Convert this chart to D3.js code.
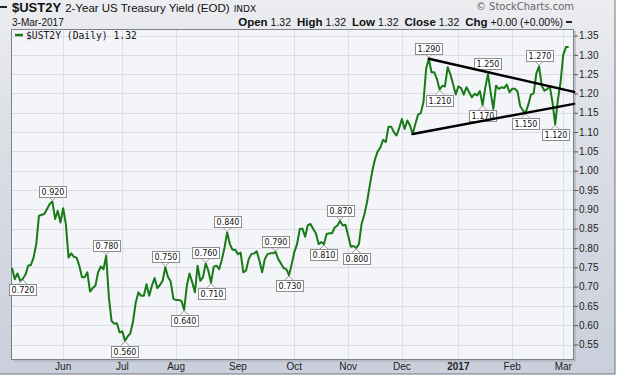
<!DOCTYPE html>
<html>
<head>
<meta charset="utf-8">
<script src="https://cdn.jsdelivr.net/npm/d3@7"></script>
<style>
  body { margin: 0; background: #fff; }
  svg { display: block; }
</style>
</head>
<body>
<div id="chart"></div>
<script>
// trading calendar (bond market)
const firstDay = "2016-05-04";
const lastDay = "2017-03-07";
const holidays = ["2016-05-30", "2016-07-04", "2016-09-05", "2016-10-10", "2016-11-11",
  "2016-11-24", "2016-12-26", "2017-01-02", "2017-01-16", "2017-02-20"];

// daily close of $UST2Y, one value per trading day from 4-May-2016
const yields = [
  0.748, 0.719, 0.734, 0.715, 0.720, 0.731, 0.754, 0.756, 0.775, 0.810,
  0.883, 0.886, 0.888, 0.901, 0.914, 0.920, 0.875, 0.896, 0.866, 0.903,
  0.862, 0.775, 0.786, 0.777, 0.775, 0.754, 0.724, 0.724, 0.737, 0.687,
  0.696, 0.702, 0.737, 0.752, 0.745, 0.780, 0.672, 0.611, 0.604, 0.605,
  0.581, 0.584, 0.560, 0.571, 0.579, 0.610, 0.659, 0.685, 0.676, 0.676,
  0.706, 0.676, 0.702, 0.722, 0.696, 0.704, 0.715, 0.750, 0.725, 0.713,
  0.668, 0.665, 0.665, 0.663, 0.640, 0.702, 0.734, 0.711, 0.685, 0.754,
  0.715, 0.724, 0.760, 0.741, 0.710, 0.751, 0.754, 0.745, 0.769, 0.800,
  0.840, 0.810, 0.795, 0.795, 0.784, 0.788, 0.737, 0.741, 0.771, 0.784,
  0.786, 0.791, 0.767, 0.737, 0.771, 0.784, 0.786, 0.786, 0.790, 0.771,
  0.760, 0.748, 0.745, 0.730, 0.758, 0.790, 0.810, 0.849, 0.850, 0.829,
  0.859, 0.862, 0.849, 0.838, 0.810, 0.815, 0.810, 0.836, 0.838, 0.838,
  0.853, 0.858, 0.870, 0.858, 0.860, 0.832, 0.803, 0.805, 0.800, 0.810,
  0.862, 0.886, 0.918, 0.960, 1.000, 1.030, 1.050, 1.060, 1.080, 1.074,
  1.114, 1.114, 1.100, 1.091, 1.111, 1.134, 1.108, 1.130, 1.117, 1.095,
  1.121, 1.145, 1.149, 1.177, 1.264, 1.290, 1.255, 1.255, 1.238, 1.210,
  1.220, 1.218, 1.268, 1.250, 1.225, 1.197, 1.218, 1.214, 1.197, 1.216,
  1.203, 1.190, 1.199, 1.195, 1.206, 1.170, 1.215, 1.250, 1.203, 1.160,
  1.220, 1.212, 1.216, 1.214, 1.223, 1.203, 1.212, 1.212, 1.205, 1.167,
  1.156, 1.150, 1.171, 1.197, 1.200, 1.252, 1.270, 1.220, 1.207, 1.211,
  1.219, 1.177, 1.120, 1.183, 1.229, 1.300, 1.320, 1.320
];

const yTicks = [0.55, 0.60, 0.65, 0.70, 0.75, 0.80, 0.85, 0.90, 0.95, 1.00,
  1.05, 1.10, 1.15, 1.20, 1.25, 1.30, 1.35];
const monthStarts = ["2016-06-01", "2016-07-01", "2016-08-01", "2016-09-01", "2016-10-03",
  "2016-11-01", "2016-12-01", "2017-01-03", "2017-02-01", "2017-03-01"];
const monthLabels = ["Jun", "Jul", "Aug", "Sep", "Oct", "Nov", "Dec", "2017", "Feb", "Mar"];

// annotated turning points
const highDates = ["2016-05-25", "2016-06-23", "2016-07-26", "2016-08-16", "2016-08-26",
  "2016-09-22", "2016-10-27", "2016-12-15", "2017-01-19", "2017-02-15"];
const lowDates = ["2016-05-10", "2016-07-05", "2016-08-04", "2016-08-18", "2016-09-29",
  "2016-10-19", "2016-11-04", "2016-12-21", "2017-01-17", "2017-02-08", "2017-02-24"];

// triangle trendlines: [date, yield]
const upperTrend = [["2016-12-15", 1.29], ["2017-03-07", 1.204]];
const lowerTrend = [["2016-12-07", 1.095], ["2017-03-07", 1.173]];

const W = 621, H = 380;
const plot = { left: 11, right: 574, top: 29, bottom: 360 };

const parse = d3.timeParse("%Y-%m-%d");
const fmt = d3.timeFormat("%Y-%m-%d");
const days = d3.timeDay.range(parse(firstDay), d3.timeDay.offset(parse(lastDay), 1))
  .filter(d => d.getDay() % 6 !== 0 && !holidays.includes(fmt(d)));
const dayIndex = new Map(days.map((d, i) => [fmt(d), i]));

const x = d3.scaleLinear().domain([-0.4, days.length - 1]).range([plot.left, plot.right]);
const y = d3.scaleLinear().domain([0.55, 1.35]).range([344.5, 35.5]);

const svg = d3.select("#chart").append("svg")
  .attr("width", W).attr("height", H)
  .style("font-family", "'Liberation Sans', Arial, sans-serif");

const defs = svg.append("defs");
const bg = defs.append("linearGradient").attr("id", "bg").attr("x1", 0).attr("y1", 0).attr("x2", 0).attr("y2", 1);
bg.append("stop").attr("offset", 0).attr("stop-color", "#ecedf0");
bg.append("stop").attr("offset", 0.35).attr("stop-color", "#dcdfe6");
bg.append("stop").attr("offset", 1).attr("stop-color", "#c9cfdb");

// outer frame
svg.append("rect").attr("x", 0).attr("y", 0).attr("width", 615).attr("height", 374).attr("fill", "url(#bg)");
svg.append("line").attr("x1", 615).attr("x2", 615).attr("y1", 0).attr("y2", 374).attr("stroke", "#6f737c");
svg.append("line").attr("x1", 0).attr("x2", 615).attr("y1", 374).attr("y2", 374).attr("stroke", "#6f737c");

// plot panel + shadow
svg.append("rect")
  .attr("x", plot.left + 2).attr("y", plot.top + 2)
  .attr("width", plot.right - plot.left).attr("height", plot.bottom - plot.top)
  .attr("fill", "#a9aeb9").attr("opacity", 0.6);
svg.append("rect")
  .attr("x", plot.left).attr("y", plot.top)
  .attr("width", plot.right - plot.left).attr("height", plot.bottom - plot.top)
  .attr("fill", "#f4f5f9");

// gridlines
const grid = svg.append("g").attr("stroke", "#dcdee6").attr("stroke-width", 1);
grid.selectAll(".hg").data(yTicks).enter().append("line")
  .attr("x1", plot.left).attr("x2", plot.right)
  .attr("y1", d => Math.round(y(d)) + 0.5).attr("y2", d => Math.round(y(d)) + 0.5);
grid.selectAll(".vg").data(monthStarts).enter().append("line")
  .attr("y1", plot.top).attr("y2", plot.bottom)
  .attr("x1", d => Math.round(x(dayIndex.get(d))) + 0.5)
  .attr("x2", d => Math.round(x(dayIndex.get(d))) + 0.5);

svg.append("rect")
  .attr("x", plot.left + 0.5).attr("y", plot.top + 0.5)
  .attr("width", plot.right - plot.left - 1).attr("height", plot.bottom - plot.top - 1)
  .attr("fill", "none").attr("stroke", "#7d818a");

// right axis
const yAxis = svg.append("g").attr("transform", `translate(${plot.right},0)`)
  .call(d3.axisRight(y).tickValues(yTicks).tickFormat(d3.format(".2f")).tickSize(4).tickPadding(1));
yAxis.select(".domain").remove();
yAxis.selectAll("line").attr("stroke", "#555");
yAxis.selectAll("text").attr("font-size", 10).attr("fill", "#222")
  .attr("font-family", "'Liberation Sans', Arial, sans-serif");

// bottom month labels
svg.append("g").selectAll("text").data(monthStarts).enter().append("text")
  .attr("x", d => x(dayIndex.get(d)))
  .attr("y", 370)
  .attr("text-anchor", "middle")
  .attr("font-size", 10)
  .attr("fill", "#222")
  .attr("font-weight", (d, i) => monthLabels[i] === "2017" ? "bold" : "normal")
  .text((d, i) => monthLabels[i]);

// price line
const line = d3.line().x((d, i) => x(i)).y(d => y(d));
svg.append("path").datum(yields)
  .attr("d", line)
  .attr("fill", "none")
  .attr("stroke", "#177a17")
  .attr("stroke-width", 2)
  .attr("stroke-linejoin", "round");

// value labels
const boxW = 27, boxH = 11, gap = 5;
const labels = svg.append("g").attr("font-family", "'DejaVu Sans', Verdana, sans-serif");
function addLabel(date, isHigh) {
  const i = dayIndex.get(date);
  const v = yields[i];
  const px = x(i), py = y(v);
  const edge = isHigh ? py - gap : py + gap;
  const top = isHigh ? edge - boxH : edge;
  labels.append("path")
    .attr("d", `M${px - 4},${edge} L${px},${py + (isHigh ? -1 : 1)} L${px + 4},${edge}`)
    .attr("fill", "#fff").attr("stroke", "#999");
  labels.append("rect")
    .attr("x", Math.round(px - boxW / 2) + 0.5).attr("y", Math.round(top) + 0.5)
    .attr("width", boxW).attr("height", boxH)
    .attr("fill", "#fff").attr("stroke", "#8d8d8d");
  labels.append("text")
    .attr("x", Math.round(px - boxW / 2) + 0.5 + boxW / 2).attr("y", Math.round(top) + 9)
    .attr("text-anchor", "middle")
    .attr("font-size", 8)
    .attr("fill", "#111")
    .text(d3.format(".3f")(v));
}
highDates.forEach(d => addLabel(d, true));
lowDates.forEach(d => addLabel(d, false));

// trendlines
[upperTrend, lowerTrend].forEach(t => {
  svg.append("line")
    .attr("x1", x(dayIndex.get(t[0][0]))).attr("y1", y(t[0][1]))
    .attr("x2", x(dayIndex.get(t[1][0]))).attr("y2", y(t[1][1]))
    .attr("stroke", "#000").attr("stroke-width", 2.5).attr("stroke-linecap", "round");
});

// legend
svg.append("line").attr("x1", 15).attr("x2", 23).attr("y1", 35).attr("y2", 35)
  .attr("stroke", "#177a17").attr("stroke-width", 2.5);
svg.append("text").attr("x", 26).attr("y", 39)
  .attr("font-family", "'DejaVu Sans Mono', monospace").attr("font-size", 9.7).attr("fill", "#111")
  .text(`$UST2Y (Daily) ${d3.format(".2f")(yields[yields.length - 1])}`);

// header
svg.append("rect").attr("x", 0).attr("y", 6).attr("width", 7).attr("height", 2).attr("fill", "#222");
const title = svg.append("text").attr("x", 12).attr("y", 12).attr("fill", "#111");
title.append("tspan").attr("font-weight", "bold").attr("font-size", 13).text("$UST2Y");
title.append("tspan").attr("font-size", 11.5).attr("dx", 4).text("2-Year US Treasury Yield (EOD)");
title.append("tspan").attr("font-size", 9).attr("dx", 4).attr("font-family", "'DejaVu Sans', Verdana, sans-serif").text("INDX");

svg.append("text").attr("x", 12).attr("y", 26).attr("font-size", 10).attr("fill", "#111").text("3-Mar-2017");

const last = yields[yields.length - 1];
const chg = last - yields[yields.length - 2];
const quote = svg.append("text").attr("x", 563).attr("y", 26).attr("text-anchor", "end").attr("fill", "#111");
[["Open", last], ["High", last], ["Low", last], ["Close", last]].forEach((q, k) => {
  quote.append("tspan").attr("font-weight", "bold").attr("font-size", 11.5).attr("dx", k ? 6 : 0).text(q[0]);
  quote.append("tspan").attr("font-size", 10.5).attr("dx", 3).text(d3.format(".2f")(q[1]));
});
quote.append("tspan").attr("font-weight", "bold").attr("font-size", 11.5).attr("dx", 6).text("Chg");
quote.append("tspan").attr("font-size", 10.5).attr("dx", 3)
  .text(`${d3.format("+.2f")(chg)} (${d3.format("+.2f")(chg / last * 100)}%)`);
svg.append("rect").attr("x", 566).attr("y", 21).attr("width", 6).attr("height", 2).attr("fill", "#222");

svg.append("text").attr("x", 574).attr("y", 10).attr("text-anchor", "end")
  .attr("font-size", 10).attr("fill", "#666")
  .attr("font-family", "'DejaVu Sans', Verdana, sans-serif")
  .text("\u00A9 StockCharts.com");
</script>
</body>
</html>
